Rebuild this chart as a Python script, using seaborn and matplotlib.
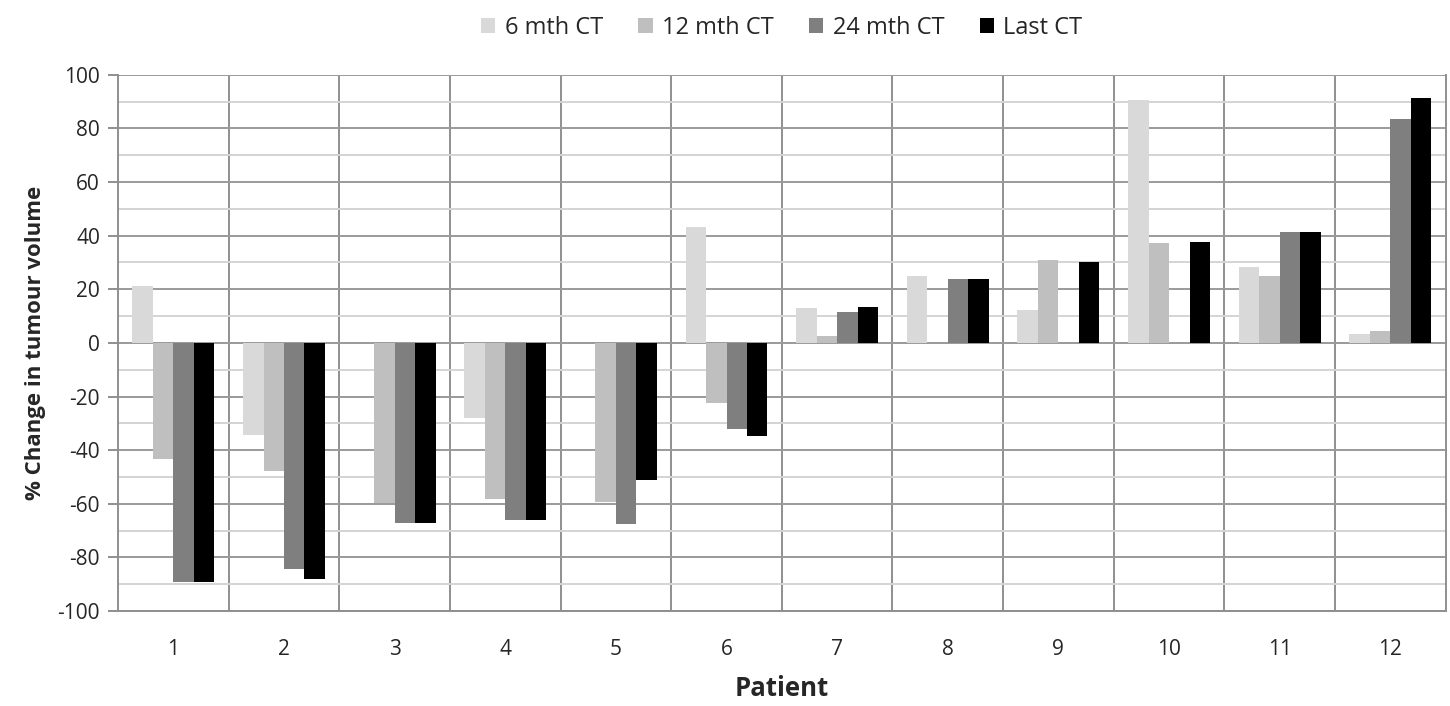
import numpy as np
import pandas as pd
import matplotlib
matplotlib.use('Agg')
import matplotlib.pyplot as plt
from matplotlib.ticker import MultipleLocator, FuncFormatter
import seaborn as sns

patients = [str(i) for i in range(1, 13)]
series = ['6 mth CT', '12 mth CT', '24 mth CT', 'Last CT']
colors = ['#d9d9d9', '#bfbfbf', '#7f7f7f', '#000000']

ct_6 = [21.4, -34.5, np.nan, -28.1, np.nan, 43.4, 12.9, 24.8, 12.2, 90.7, 28.5, 3.2]
ct_12 = [-43.4, -47.9, -59.9, -58.2, -59.5, -22.4, 2.7, np.nan, 31.1, 37.4, 24.8, 4.6]
ct_24 = [-89.3, -84.2, -67.0, -65.9, -67.6, -32.0, 11.4, 24.0, np.nan, np.nan, 41.3, 83.6]
ct_last = [-89.3, -88.2, -67.0, -65.9, -51.2, -34.7, 13.5, 24.0, 30.0, 37.5, 41.3, 91.3]

rows = []
for name, vals in zip(series, [ct_6, ct_12, ct_24, ct_last]):
    for p, v in zip(patients, vals):
        rows.append({'Patient': p, 'Scan': name, 'Change': v})
df = pd.DataFrame(rows)

sns.set_style('white')
plt.rcParams['font.family'] = ['Open Sans', 'DejaVu Sans']
plt.rcParams['axes.unicode_minus'] = False

fig = plt.figure(figsize=(14.5, 7.06), dpi=100)
ax = fig.add_axes([0.0814, 0.1346, 0.9156, 0.7594])

sns.barplot(data=df, x='Patient', y='Change', hue='Scan', order=patients,
            hue_order=series, palette=colors, width=0.74, gap=0,
            linewidth=0, errorbar=None, ax=ax)

ax.set_ylim(-100, 100)
ax.set_xlim(-0.5, 11.5)
ax.yaxis.set_major_locator(MultipleLocator(20))
ax.yaxis.set_minor_locator(MultipleLocator(10))
ax.yaxis.set_major_formatter(FuncFormatter(lambda v, _: f'{int(round(v))}'))
ax.grid(which='major', axis='y', color='#9a9a9a', lw=1.4, zorder=0)
ax.grid(which='minor', axis='y', color='#d4d4d4', lw=1.4, zorder=0)
for xb in np.arange(0.5, 11.5, 1):
    ax.axvline(xb, color='#8f8f8f', lw=1.4, zorder=0)
ax.set_axisbelow(True)

ax.spines['top'].set_visible(False)
for s in ['left', 'right', 'bottom']:
    ax.spines[s].set_color('#8f8f8f')
    ax.spines[s].set_linewidth(1.4)

ax.tick_params(axis='y', which='major', length=7, width=1.4, color='#8f8f8f',
               labelsize=15, pad=6, direction='out', left=True)
ax.tick_params(axis='y', which='minor', length=0)
ax.tick_params(axis='x', length=0, labelsize=15, pad=20)

ax.set_ylabel('% Change in tumour volume', fontsize=16, fontweight='bold', labelpad=8)
ax.set_xlabel('Patient', fontsize=18.5, fontweight='bold', labelpad=11)

ax.legend(loc='upper center', bbox_to_anchor=(0.5, 1.15), ncol=4, frameon=False,
          fontsize=17, handlelength=0.6, handleheight=0.6, handletextpad=0.4,
          columnspacing=1.5)

fig.savefig('out.png', dpi=100)
